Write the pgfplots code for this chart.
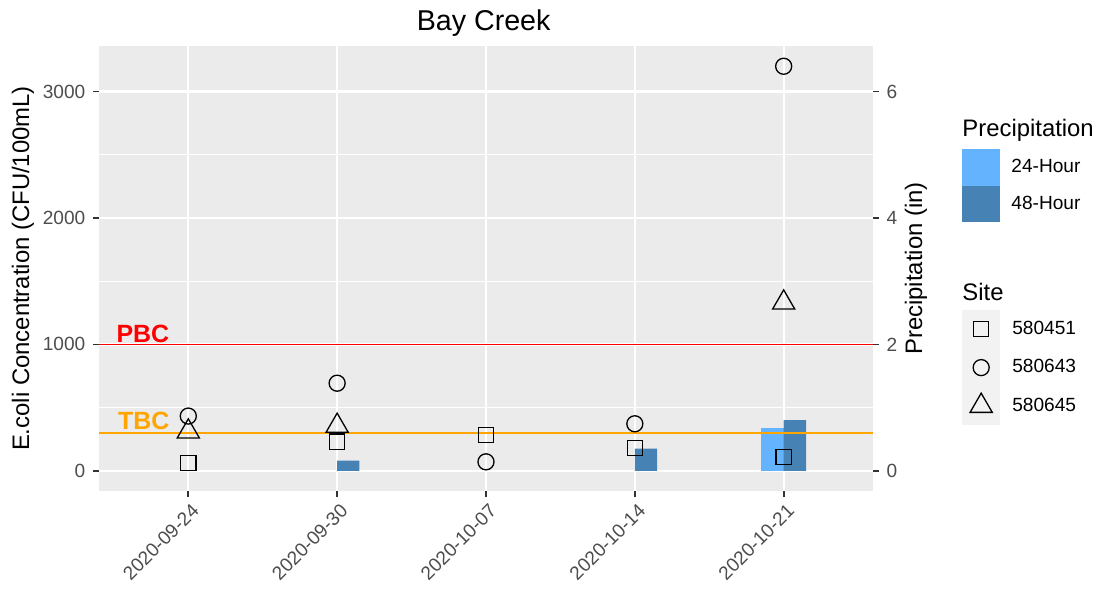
\documentclass[border=0pt]{standalone}
\usepackage{fontspec}
\setmainfont{Liberation Sans}
\usepackage{pgfplots}
\pgfplotsset{compat=1.18}
\definecolor{panelbg}{HTML}{EBEBEB}
\definecolor{ticklab}{HTML}{4D4D4D}
\definecolor{tickcol}{HTML}{333333}
\definecolor{keybg}{HTML}{F2F2F2}
\definecolor{hrlight}{HTML}{63B3FF}
\definecolor{hrdark}{HTML}{4682B4}
\definecolor{pbc}{HTML}{FF0000}
\definecolor{tbc}{HTML}{FFA500}
\begin{document}
\begin{tikzpicture}
\path[use as bounding box] (0,0) rectangle (506pt,275.6pt);
\pgfplotsset{
  common/.style={
    at={(45.62pt,49.31pt)}, anchor=south west, scale only axis,
    width=356.69pt, height=205.07pt,
    xmin=0.4, xmax=5.6,
    axis x line*=bottom,
    axis line style={draw=none},
    tick align=outside,
    major tick length=2.75pt,
    minor tick length=0pt,
    tick style={tickcol, line width=0.8pt},
    ticklabel style={font=\fontsize{8.8}{10}\selectfont, text=ticklab},
    /pgf/number format/assume math mode=true,
    /pgf/number format/1000 sep={},
    scaled y ticks=false,
    clip mode=individual,
    legend style={draw=none, fill=none, inner sep=0pt, outer sep=0pt,
      row sep=0pt, font=\fontsize{8.8}{10}\selectfont, cells={anchor=west},
      nodes={inner sep=0.5pt},
      /tikz/every odd column/.append style={column sep=5pt}},
  },
}
% Axis A: precipitation (right), background, grid, bars
\begin{axis}[common,
  axis y line*=right,
  ymin=-0.32, ymax=6.72,
  ytick={0,2,4,6}, minor ytick={1,3,5},
  xtick={1,2,3,4,5}, xticklabels={,,,,},
  xtick style={draw=none},
  axis background/.style={fill=panelbg},
  xmajorgrids, ymajorgrids, yminorgrids,
  major grid style={white, line width=1.07pt},
  minor grid style={white, line width=0.53pt},
  legend style={at={(axis description cs:1.115,0.768)}, anchor=north west},
]
\addplot[ybar, bar width=0.15, bar shift=-0.075, fill=hrlight, draw=none,
  legend image code/.code={\fill[hrlight] (0pt,-8.4pt) rectangle (17.28pt,8.4pt);}]
  coordinates {(5,0.68)};
\addlegendentry{24-Hour}
\addplot[ybar, bar width=0.15, bar shift=0.075, fill=hrdark, draw=none,
  legend image code/.code={\fill[hrdark] (0pt,-8.4pt) rectangle (17.28pt,8.4pt);}]
  coordinates {(2,0.16) (4,0.35) (5,0.80)};
\addlegendentry{48-Hour}
\end{axis}
% Axis B: E. coli (left), lines, points
\begin{axis}[common,
  axis y line*=left,
  ymin=-160, ymax=3360,
  ytick={0,1000,2000,3000},
  xtick={1,2,3,4,5},
  xticklabels={2020-09-24,2020-09-30,2020-10-07,2020-10-14,2020-10-21},
  xticklabel style={rotate=45, anchor=north east, inner sep=1pt, yshift=-1.5pt},
  legend style={at={(axis description cs:1.115,0.4067)}, anchor=north west},
  legend image code/.code={\fill[keybg] (0pt,-8.64pt) rectangle (17.28pt,8.64pt);
     \draw[#1] plot coordinates {(8.64pt,0pt)};},
]
\addplot[pbc, line width=0.8pt, forget plot] coordinates {(0.4,1000) (5.6,1000)};
\addplot[tbc, line width=0.8pt, forget plot] coordinates {(0.4,300) (5.6,300)};
\addplot[only marks, mark=square, mark size=3.5pt, black, mark options={line width=0.6pt}]
  coordinates {(1,63) (2,230) (3,283) (4,181) (5,110)};
\addlegendentry{580451}
\addplot[only marks, mark=o, mark size=3.7pt, black, mark options={line width=0.6pt}]
  coordinates {(1,433) (2,693) (3,71) (4,372) (5,3200)};
\addlegendentry{580643}
\addplot[only marks, mark=triangle, mark size=5.9pt, black, mark options={line width=0.6pt}]
  coordinates {(1,310) (2,355) (5,1330)};
\addlegendentry{580645}
\node[anchor=base west, inner sep=0pt, text=pbc, font=\bfseries\fontsize{11.5}{12}\selectfont]
  at (axis cs:0.515,1013) {PBC};
\node[anchor=base west, inner sep=0pt, text=tbc, font=\bfseries\fontsize{11.5}{12}\selectfont]
  at (axis cs:0.525,326) {TBC};
\node[anchor=base, inner sep=0pt, font=\fontsize{13.2}{15}\selectfont]
  at (axis description cs:0.497,1.036) {Bay Creek};
\node[rotate=90, inner sep=0pt, font=\fontsize{11}{13}\selectfont]
  at (axis description cs:-0.0982,0.5) {E.coli Concentration (CFU/100mL)};
\node[rotate=90, inner sep=0pt, font=\fontsize{11}{13}\selectfont]
  at (axis description cs:1.0556,0.5) {Precipitation (in)};
\node[anchor=base west, inner sep=0pt, font=\fontsize{11}{13}\selectfont]
  at (axis description cs:1.115,0.7978) {Precipitation};
\node[anchor=base west, inner sep=0pt, font=\fontsize{11}{13}\selectfont]
  at (axis description cs:1.115,0.4292) {Site};
\end{axis}
\end{tikzpicture}
\end{document}
